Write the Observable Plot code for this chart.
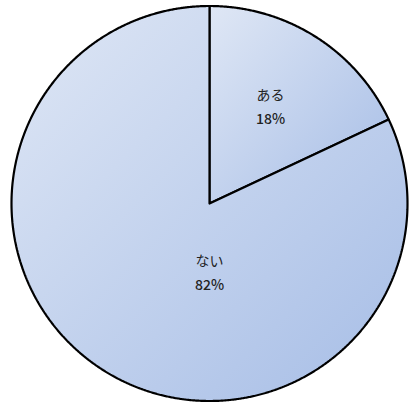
<!DOCTYPE html>
<html><head><meta charset="utf-8">
<script src="https://cdn.jsdelivr.net/npm/d3@7"></script>
<script src="https://cdn.jsdelivr.net/npm/@observablehq/plot@0.6"></script>
<style>body{margin:0;background:#fff}#chart svg{display:block}</style>
</head><body><div id="chart"></div>
<script>
const categories = ["ある", "ない"];
const values = [18, 82];
const percentLabels = ["18%", "82%"];

const arcs = d3.pie().sort(null).value(d => d)(values);
const pts = [];
arcs.forEach((a, i) => {
  const n = Math.max(2, Math.ceil((a.endAngle - a.startAngle) / 0.005));
  pts.push({i, x: 0, y: 0});
  for (let k = 0; k <= n; k++) {
    const t = a.startAngle + (a.endAngle - a.startAngle) * k / n;
    pts.push({i, x: Math.sin(t), y: Math.cos(t)});
  }
  pts.push({i, x: 0, y: 0});
});

// label anchor (polar: mid-angle, radius fraction) per slice
const labelPlace = [
  {r: 0.575, angle: a => (a.startAngle + a.endAngle) / 2},
  {r: 0.355, angle: a => Math.PI}
];
const lbl = arcs.map((a, i) => {
  const t = labelPlace[i].angle(a), r = labelPlace[i].r;
  return {name: categories[i], pct: percentLabels[i], x: r * Math.sin(t), y: r * Math.cos(t)};
});

const font = "'Noto Sans CJK JP', 'Noto Sans', sans-serif";
const plot = Plot.plot({
  width: 411, height: 403, margin: 0,
  x: {domain: [-1, 1], range: [11, 407], axis: null},
  y: {domain: [-1, 1], range: [400.5, 5.5], axis: null},
  marks: [
    Plot.line(pts, {x: "x", y: "y", z: "i", fill: "url(#sliceGrad)", stroke: "#000", strokeWidth: 2.2, strokeLinejoin: "miter", curve: "linear"}),
    Plot.text(lbl, {x: "x", y: "y", text: "name", dy: -12, fontSize: 14, fill: "#222", fontFamily: font}),
    Plot.text(lbl, {x: "x", y: "y", text: "pct", dy: 12, fontSize: 14, fontWeight: 500, fill: "#222", fontFamily: font})
  ]
});
const svg = d3.select(plot);
const defs = svg.insert("defs", ":first-child");
const g = defs.append("linearGradient").attr("id", "sliceGrad")
  .attr("x1", "0").attr("y1", "0").attr("x2", "1").attr("y2", "1");
g.append("stop").attr("offset", "0").attr("stop-color", "#dfe7f5");
g.append("stop").attr("offset", "1").attr("stop-color", "#a6bde6");
document.getElementById("chart").appendChild(plot);
</script>
</body></html>
